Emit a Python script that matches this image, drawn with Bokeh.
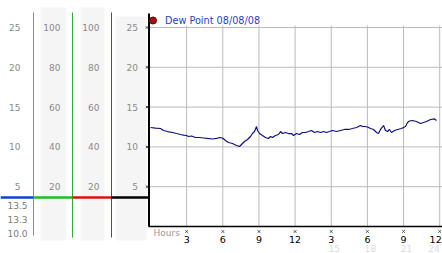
from bokeh.plotting import figure
from bokeh.models import Range1d, ColumnDataSource
from bokeh.core.properties import value
from bokeh.embed import file_html
from bokeh.resources import INLINE

# ---------------- data ----------------
hours = [0.00, 0.41, 0.83, 1.08, 1.41, 1.83, 2.16, 2.49, 2.74, 2.99,
         3.15, 3.40, 3.73, 4.07, 4.40, 4.73, 5.15, 5.48, 5.73, 5.98,
         6.22, 6.47, 6.80, 7.14, 7.39, 7.55, 7.80, 8.05, 8.30, 8.46,
         8.63, 8.80, 8.88, 9.05, 9.29, 9.54, 9.79, 9.96, 10.12, 10.37,
         10.62, 10.79, 10.95, 11.20, 11.45, 11.70, 11.87, 12.12, 12.37, 12.61,
         12.86, 13.11, 13.36, 13.61, 13.86, 14.11, 14.36, 14.61, 14.85, 15.10,
         15.44, 15.77, 16.10, 16.43, 16.76, 17.10, 17.43, 17.59, 17.76, 18.01,
         18.26, 18.51, 18.76, 18.92, 19.09, 19.34, 19.50, 19.67, 19.83, 20.00,
         20.25, 20.50, 20.83, 21.16, 21.33, 21.49, 21.74, 22.07, 22.41, 22.66,
         22.90, 23.24, 23.57, 23.73]
dew_point = [12.44, 12.37, 12.31, 12.06, 11.93, 11.81, 11.68, 11.56, 11.49, 11.43,
             11.31, 11.37, 11.18, 11.18, 11.12, 11.06, 10.99, 11.06, 11.18, 11.12,
             10.80, 10.55, 10.43, 10.18, 10.05, 10.30, 10.68, 10.93, 11.31, 11.68,
             11.93, 12.56, 12.06, 11.68, 11.43, 11.18, 11.06, 11.31, 11.18, 11.43,
             11.56, 11.93, 11.68, 11.81, 11.68, 11.68, 11.43, 11.68, 11.56, 11.81,
             11.81, 11.93, 12.06, 11.81, 11.93, 11.81, 11.93, 11.81, 11.93, 12.06,
             11.93, 12.06, 12.19, 12.19, 12.31, 12.44, 12.69, 12.56, 12.56, 12.50,
             12.31, 12.19, 11.81, 11.68, 12.19, 12.69, 12.06, 11.93, 12.19, 11.81,
             12.06, 12.19, 12.31, 12.56, 13.07, 13.25, 13.32, 13.19, 12.94, 13.07,
             13.19, 13.44, 13.51, 13.32]

y_ticks = [5, 10, 15, 20, 25]
pct_ticks = [20, 40, 60, 80, 100]
x_ticks = [3, 6, 9, 12, 15, 18, 21, 24]
x_tick_labels = ["3", "6", "9", "12", "3", "6", "9", "12"]
faded_ticks = [15, 18, 21, 24]
faded_labels = ["15", "18", "21", "24"]
stat_labels = ["13.5", "13.3", "10.0"]
legend_label = "Dew Point 08/08/08"
x_title = "Hours"

# ---------------- layout helpers (pixel -> data) ----------------
W, H = 442, 253
X0, PXH = 150.0, 12.05    # pixel of hour 0, pixels per hour
Y0, PXV = 226.0, 7.96     # pixel of value 0, pixels per unit


def hx(px):
    return (px - X0) / PXH


def vy(py):
    return (Y0 - py) / PXV


FONT = value("DejaVu Sans")

p = figure(width=W, height=H, output_backend="svg", toolbar_location=None,
           x_range=Range1d(hx(0), hx(W)), y_range=Range1d(vy(H), vy(0)),
           min_border=0, x_axis_location=None, y_axis_location=None)
p.grid.visible = False
p.outline_line_color = None
p.background_fill_color = "white"
p.border_fill_color = "white"

# gray background columns
p.quad(left=[hx(40), hx(80), hx(115)], right=[hx(66), hx(104), hx(146)],
       top=[vy(7), vy(7), vy(16)], bottom=[vy(240)] * 3,
       fill_color="#f5f5f5", line_color=None)

# grid
p.segment(x0=[hx(149)] * len(y_ticks), x1=[hx(W)] * len(y_ticks),
          y0=y_ticks, y1=y_ticks, line_color="#bbbbbb", line_width=1)
p.segment(x0=x_ticks, x1=x_ticks, y0=[0] * len(x_ticks),
          y1=[vy(25)] * len(x_ticks), line_color="#bbbbbb", line_width=1)

# colored vertical scale lines
p.segment(x0=[hx(33), hx(72), hx(111)], x1=[hx(33), hx(72), hx(111)],
          y0=[vy(235), vy(237), vy(237)], y1=[vy(12)] * 3,
          line_color=["#44a0d0", "#33aa33", "#bb2222"], line_width=1)

# colored horizontal bar
p.segment(x0=[hx(0), hx(33), hx(72), hx(111)],
          x1=[hx(33), hx(72), hx(111), hx(149)],
          y0=[vy(197)] * 4, y1=[vy(197)] * 4,
          line_color=["#1040d0", "#22bb22", "#dd1111", "black"], line_width=2.5)

# axes
p.segment(x0=[hx(148.5)], x1=[hx(148.5)], y0=[0], y1=[vy(13)],
          line_color="black", line_width=2)
p.segment(x0=[hx(148)], x1=[hx(W)], y0=[0], y1=[0],
          line_color="black", line_width=1.5)

# tick marks
p.scatter(x=[hx(146.5)] * len(y_ticks), y=y_ticks, marker="x", size=3.5,
          line_color="#444444", line_width=1)
p.scatter(x=x_ticks, y=[vy(231)] * len(x_ticks), marker="x", size=3.5,
          line_color="#444444", line_width=1)

# left column labels
GRAY = "#8a8a8a"
for xr, labs in [(20, y_ticks), (60, pct_ticks), (99, pct_ticks), (137.5, y_ticks)]:
    p.text(x=[hx(xr)] * len(y_ticks), y=y_ticks, text=[str(v) for v in labs],
           text_align="right", text_baseline="middle", text_font=FONT,
           text_font_size="9px", text_color=GRAY)

# stat labels
p.text(x=[hx(7)] * 3, y=[vy(204.5), vy(218.5), vy(232.5)], text=stat_labels,
       text_align="left", text_baseline="middle", text_font=FONT,
       text_font_size="9px", text_color="#7a7a7a")

# x labels
p.text(x=x_ticks[:-1], y=[vy(238.5)] * (len(x_ticks) - 1), text=x_tick_labels[:-1],
       text_align="center", text_baseline="middle", text_font=FONT,
       text_font_size="9.5px", text_color="black")
p.text(x=x_ticks[-1:], y=[vy(238.5)], text=x_tick_labels[-1:],
       text_align="right", text_baseline="middle", text_font=FONT,
       text_font_size="9.5px", text_color="black", x_offset=2)
p.text(x=faded_ticks[:3], y=[vy(247.5)] * 3, text=faded_labels[:3],
       text_align="center", text_baseline="middle", text_font=FONT,
       text_font_size="9px", text_color="#dcdcdc", x_offset=3)
p.text(x=faded_ticks[3:], y=[vy(247.5)], text=faded_labels[3:],
       text_align="right", text_baseline="middle", text_font=FONT,
       text_font_size="9px", text_color="#dcdcdc", x_offset=0)
p.text(x=[hx(153)], y=[vy(232)], text=[x_title],
       text_align="left", text_baseline="middle", text_font=FONT,
       text_font_size="9px", text_color="#999999")

# legend
p.scatter(x=[hx(152.5)], y=[vy(20)], marker="circle", size=7,
          fill_color="#aa1111", line_color="#550000", line_width=1)
p.text(x=[hx(164.5)], y=[vy(20)], text=[legend_label],
       text_align="left", text_baseline="middle", text_font=FONT,
       text_font_size="9.7px", text_color="#1f3fbf")

# data line
src = ColumnDataSource(data=dict(hours=hours, dew=dew_point))
p.line("hours", "dew", source=src, line_color="#101080", line_width=1.2)

open("out.html", "w").write(file_html(p, INLINE))
